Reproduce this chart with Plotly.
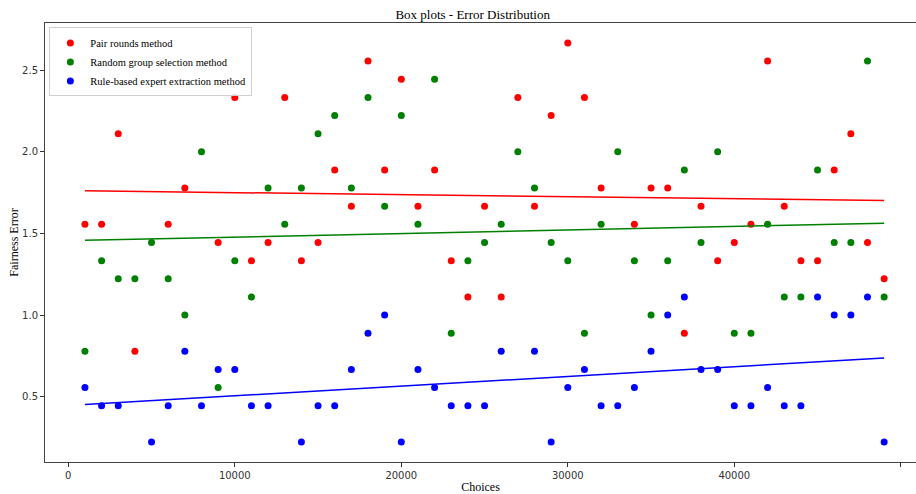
import plotly.graph_objects as go

choices = [1000 * k for k in range(1, 50)]

pair_rounds = [1.556, 1.556, 2.111, 0.778, None, 1.556, 1.778, None, 1.444, 2.333,
               1.333, 1.444, 2.333, 1.333, 1.444, 1.889, 1.667, 2.556, 1.889, 2.444,
               1.667, 1.889, 1.333, 1.111, 1.667, 1.111, 2.333, 1.667, 2.222, 2.667,
               2.333, 1.778, None, 1.556, 1.778, 1.778, 0.889, 1.667, 1.333, 1.444,
               1.556, 2.556, 1.667, 1.333, 1.333, 1.889, 2.111, 1.444, 1.222]

random_group = [0.778, 1.333, 1.222, 1.222, 1.444, 1.222, 1.000, 2.000, 0.556, 1.333,
                1.111, 1.778, 1.556, 1.778, 2.111, 2.222, 1.778, 2.333, 1.667, 2.222,
                1.556, 2.444, 0.889, 1.333, 1.444, 1.556, 2.000, 1.778, 1.444, 1.333,
                0.889, 1.556, 2.000, 1.333, 1.000, 1.333, 1.889, 1.444, 2.000, 0.889,
                0.889, 1.556, 1.111, 1.111, 1.889, 1.444, 1.444, 2.556, 1.111]

rule_based = [0.556, 0.444, 0.444, None, 0.222, 0.444, 0.778, 0.444, 0.667, 0.667,
              0.444, 0.444, None, 0.222, 0.444, 0.444, 0.667, 0.889, 1.000, 0.222,
              0.667, 0.556, 0.444, 0.444, 0.444, 0.778, None, 0.778, 0.222, 0.556,
              0.667, 0.444, 0.444, 0.556, 0.778, 1.000, 1.111, 0.667, 0.667, 0.444,
              0.444, 0.556, 0.444, 0.444, 1.111, 1.000, 1.000, 1.111, 0.222]

# trend line values at the first and last choice
trend_x = [1000, 49000]
trend_pair = [1.761, 1.702]
trend_random = [1.458, 1.563]
trend_rule = [0.452, 0.737]

series_names = ["Pair rounds method", "Random group selection method",
                "Rule-based expert extraction method"]
colors = ["#ff0000", "#008000", "#0000ff"]

fig = go.Figure()
for name, vals, col in zip(series_names, [pair_rounds, random_group, rule_based], colors):
    fig.add_trace(go.Scatter(x=choices, y=vals, mode="markers", name=name,
                             marker=dict(color=col, size=7, line=dict(width=0))))
for vals, col in zip([trend_pair, trend_random, trend_rule], colors):
    fig.add_trace(go.Scatter(x=trend_x, y=vals, mode="lines", showlegend=False,
                             line=dict(color=col, width=1.5), hoverinfo="skip"))

serif = "Liberation Serif, Times New Roman, serif"
sans = "DejaVu Sans, sans-serif"

fig.update_layout(
    width=916, height=494,
    margin=dict(l=45, r=0, t=23, b=32),
    paper_bgcolor="white", plot_bgcolor="white",
    title=dict(text="Box plots - Error Distribution", xref="paper", x=0.491, xanchor="center",
               y=1 - 14 / 494, yanchor="middle",
               font=dict(family=serif, size=13, color="#000")),
    legend=dict(x=0.005, y=0.99, xanchor="left", yanchor="top",
                bgcolor="rgba(255,255,255,0.8)", bordercolor="#d0d0d0", borderwidth=1,
                font=dict(family=serif, size=10.5, color="#000"),
                itemsizing="trace", itemwidth=30, tracegroupgap=0),
    showlegend=True,
)
fig.update_xaxes(range=[-1399, 50913], tickvals=[0, 10000, 20000, 30000, 40000, 50000],
                 ticktext=["0", "10000", "20000", "30000", "40000", "50000"],
                 ticks="outside", ticklen=4, tickcolor="#333", showgrid=False, zeroline=False,
                 showline=True, linecolor="#444", linewidth=1, mirror=True,
                 tickfont=dict(family=sans, size=10, color="#333"),
                 title=dict(text="Choices", font=dict(family=serif, size=12, color="#000"),
                            standoff=4))
fig.update_yaxes(range=[0.1, 2.789], tickvals=[0.5, 1.0, 1.5, 2.0, 2.5],
                 ticktext=["0.5", "1.0", "1.5", "2.0", "2.5"],
                 ticks="outside", ticklen=4, tickcolor="#333", showgrid=False, zeroline=False,
                 showline=True, linecolor="#444", linewidth=1, mirror=True,
                 tickfont=dict(family=sans, size=10, color="#333"),
                 title=dict(text="Fairness Error", font=dict(family=serif, size=12, color="#000"),
                            standoff=0))

fig.write_html("out.html")
